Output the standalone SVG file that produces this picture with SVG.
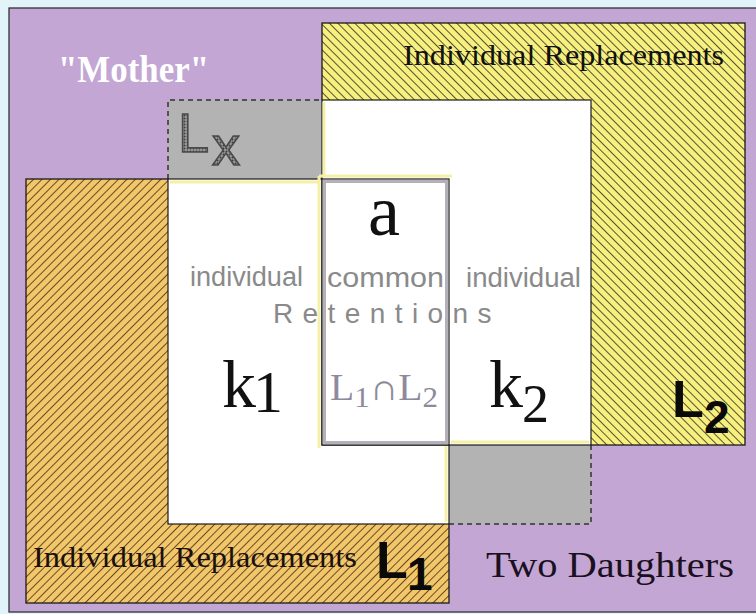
<svg xmlns="http://www.w3.org/2000/svg" width="756" height="614" viewBox="0 0 756 614">
<defs>
<pattern id="hatchY" patternUnits="userSpaceOnUse" width="6" height="6" patternTransform="rotate(-45)">
<rect width="6" height="6" fill="#f7f07e"/>
<line x1="0" y1="0" x2="0" y2="6" stroke="#1e1e1e" stroke-width="1.5"/>
</pattern>
<pattern id="hatchO" patternUnits="userSpaceOnUse" width="6" height="6" patternTransform="rotate(45)">
<rect width="6" height="6" fill="#f1c76a"/>
<line x1="0" y1="0" x2="0" y2="6" stroke="#3a2010" stroke-width="1.5"/>
</pattern>
<pattern id="dots" patternUnits="userSpaceOnUse" width="3" height="3">
<rect width="3" height="3" fill="#9a9a9a"/>
<circle cx="1.5" cy="1.5" r="1" fill="#3c3c3c"/>
</pattern>
</defs>
<style>
.serif{font-family:"Liberation Serif","Times New Roman",serif}
.sans{font-family:"Liberation Sans",Arial,sans-serif}
.gtxt{fill:#8a8a8a}
.dash{fill:none;stroke:#333;stroke-width:1.5;stroke-dasharray:5 4}
.glow{fill:none;stroke:#f6f0a6;stroke-width:3}
</style>
<rect x="0" y="0" width="756" height="614" fill="#e2f4f9"/>
<g id="mother">
<rect x="9" y="8" width="760" height="604" fill="#c3a6d3" stroke="#333" stroke-width="1.3"/>
<text class="serif" x="58" y="82" font-size="37" font-weight="bold" fill="#ffffff" textLength="151" lengthAdjust="spacingAndGlyphs">"Mother"</text>
</g>
<g id="L2-replacements">
<rect x="322" y="23" width="423" height="422" fill="url(#hatchY)" stroke="#1a1a1a" stroke-width="1.3"/>
<text class="serif" x="403" y="65" font-size="30" fill="#111" textLength="321" lengthAdjust="spacingAndGlyphs">Individual Replacements</text>
</g>
<g id="L1-replacements">
<rect x="26" y="179" width="423" height="424" fill="url(#hatchO)" stroke="#1a1a1a" stroke-width="1.3"/>
</g>
<g id="Lx">
<rect x="168" y="100" width="423" height="424" fill="#b4b3b4"/>
<path class="dash" d="M168,179 V100 H322"/>
<path class="dash" d="M449,524 H591 V445"/>
</g>
<g id="k1-region">
<rect x="168" y="179" width="281" height="345" fill="#ffffff" stroke="#1a1a1a" stroke-width="1.2"/>
<path class="glow" d="M170,182 H320"/>
<path class="glow" d="M446,446 V522"/>
</g>
<g id="k2-region">
<rect x="322" y="100" width="269" height="345" fill="#ffffff" stroke="#1a1a1a" stroke-width="1.2"/>
<path class="glow" d="M451,442 H589"/>
<path class="glow" d="M324,102 V176"/>
</g>
<g id="common-region">
<path class="glow" d="M319,176 V448 M319,176 H452"/>
<rect x="322" y="179" width="127" height="266" fill="#ffffff" stroke="#1a1a1a" stroke-width="1.2"/>
<rect x="324.5" y="181.5" width="122" height="261" fill="none" stroke="#b4b0ba" stroke-width="3"/>
<text class="serif" x="384" y="235" font-size="72" text-anchor="middle" fill="#111">a</text>
<text class="serif" x="330" y="400" font-size="37" fill="#8e8a9c" textLength="108" lengthAdjust="spacingAndGlyphs">L<tspan font-size="29" dy="7">1</tspan><tspan dy="-7">∩</tspan>L<tspan font-size="29" dy="7">2</tspan></text>
</g>
<g id="labels">
<text class="sans gtxt" x="190" y="286" font-size="27" textLength="113" lengthAdjust="spacingAndGlyphs">individual</text>
<text class="sans gtxt" x="327" y="287" font-size="28" textLength="117" lengthAdjust="spacingAndGlyphs">common</text>
<text class="sans gtxt" x="466" y="287" font-size="27" textLength="115" lengthAdjust="spacingAndGlyphs">individual</text>
<text class="sans gtxt" x="273" y="323" font-size="28" letter-spacing="9.4">Retentions</text>
<text class="serif" x="222" y="407" font-size="68" fill="#111">k<tspan x="253" y="412" font-size="60">1</tspan></text>
<text class="serif" x="489" y="407" font-size="68" fill="#111">k<tspan x="522" y="422" font-size="54">2</tspan></text>
<text class="sans" x="178" y="152" font-size="56" fill="url(#dots)" stroke="#4a4a4a" stroke-width="1.6">L<tspan x="212" y="165">x</tspan></text>
<text class="sans" x="672" y="417" font-size="52" font-weight="bold" fill="#0a0a0a">L<tspan x="704" y="433" font-size="46">2</tspan></text>
<text class="sans" x="376" y="578" font-size="52" font-weight="bold" fill="#0a0a0a">L<tspan x="407" y="590" font-size="46">1</tspan></text>
<text class="serif" x="33" y="567" font-size="30" fill="#1a1010" textLength="324" lengthAdjust="spacingAndGlyphs">Individual Replacements</text>
<text class="serif" x="486" y="577" font-size="36" fill="#1a1020" textLength="248" lengthAdjust="spacingAndGlyphs">Two Daughters</text>
</g>
</svg>
